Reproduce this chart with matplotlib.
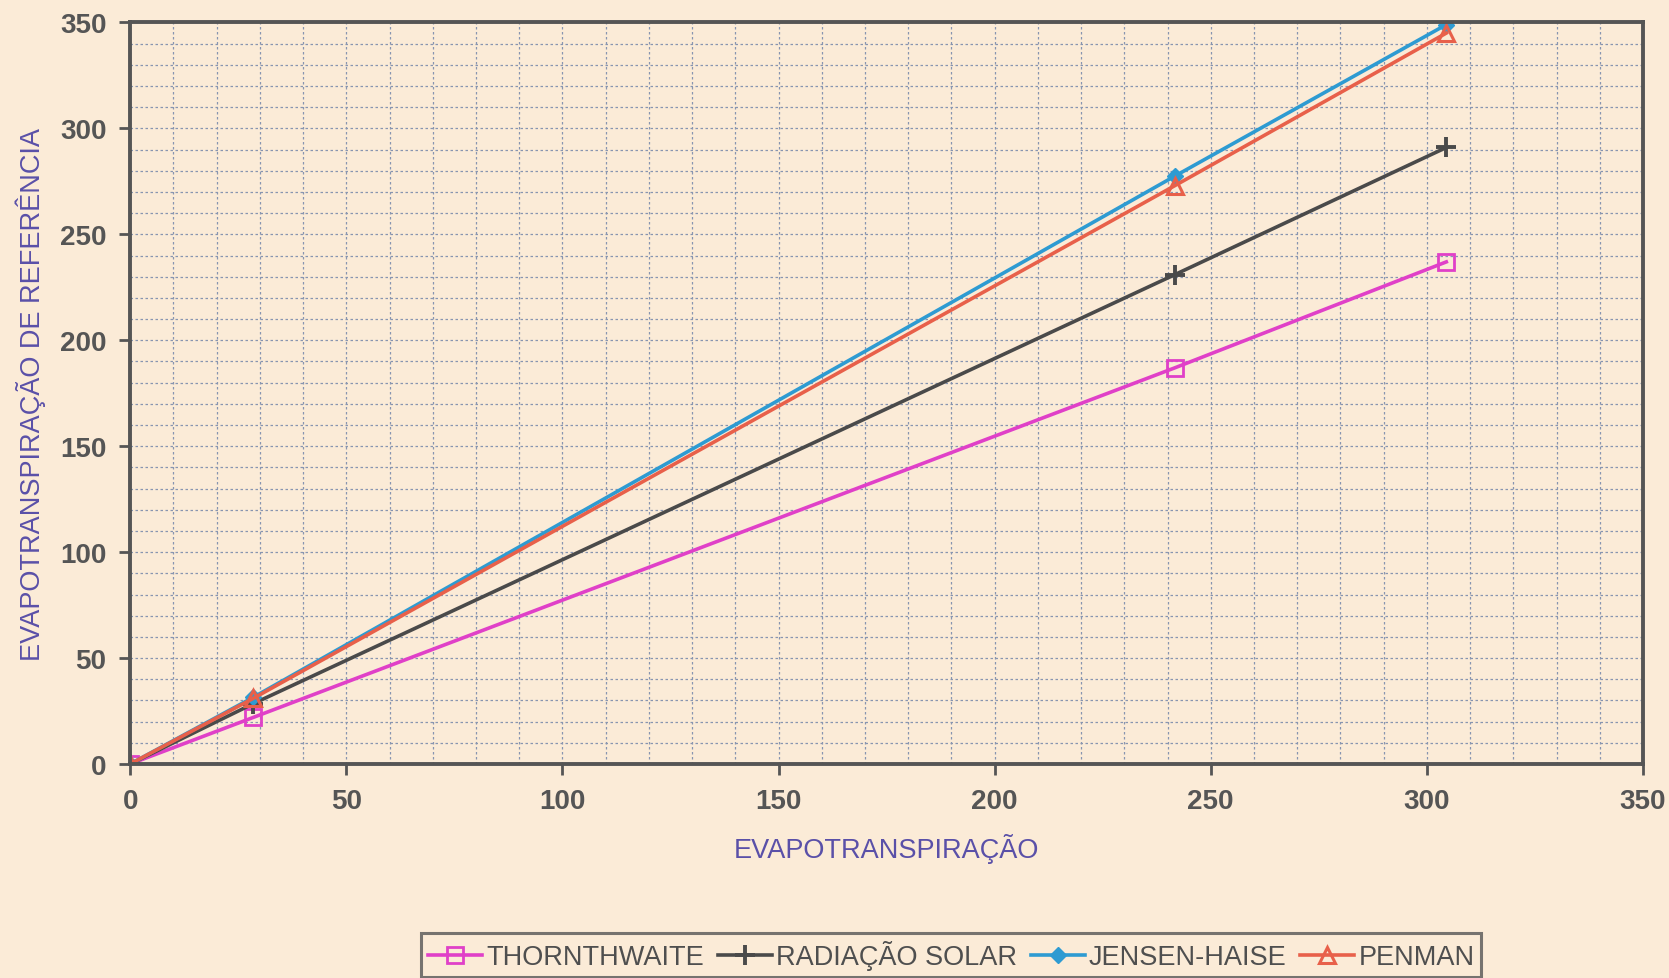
import numpy as np
import matplotlib.pyplot as plt
from matplotlib.ticker import MultipleLocator

plt.rcParams['font.family'] = ['Liberation Sans', 'DejaVu Sans']

# dados
x = [0, 28.5, 241.7, 304.5]
thornthwaite = [0, 22, 187, 237]
radiacao = [0, 28.5, 231, 291]
jensen = [0, 31.5, 277.5, 349]
penman = [0, 31, 273, 345]

bg = '#FBEBD7'
fig = plt.figure(figsize=(16.69, 9.79), dpi=100, facecolor=bg)
ax = fig.add_axes([0.078, 0.2186, 0.9064, 0.7574], facecolor=bg)

ax.plot(x, thornthwaite, color='#E040C8', lw=2.6, marker='s', ms=11,
        mfc='none', mew=2, label='THORNTHWAITE')
ax.plot(x, radiacao, color='#4A4A4A', lw=2.6, marker='+', ms=15,
        mew=2.8, label='RADIAÇÃO SOLAR')
ax.plot(x, jensen, color='#2E9BD2', lw=2.6, marker='D', ms=8,
        label='JENSEN-HAISE')
ax.plot(x, penman, color='#E8604A', lw=2.6, marker='^', ms=12,
        mfc='none', mew=2.2, label='PENMAN')

ax.set_xlim(0, 350)
ax.set_ylim(0, 350)
ax.xaxis.set_major_locator(MultipleLocator(50))
ax.yaxis.set_major_locator(MultipleLocator(50))
ax.xaxis.set_minor_locator(MultipleLocator(10))
ax.yaxis.set_minor_locator(MultipleLocator(10))
ax.grid(True, which='both', color='#8895B0', ls=(0, (2, 2)), lw=0.9)
ax.set_axisbelow(True)
ax.tick_params(which='minor', length=0)
ax.tick_params(which='major', length=8, width=2, color='#555555',
               labelsize=20, labelcolor='#555555', pad=9)
for lab in ax.get_xticklabels() + ax.get_yticklabels():
    lab.set_fontweight('bold')
for s in ax.spines.values():
    s.set_color('#555555')
    s.set_linewidth(2.8)

ax.set_xlabel('EVAPOTRANSPIRAÇÃO', fontsize=19.5, color='#5A50A8', labelpad=14)
ax.set_ylabel('EVAPOTRANSPIRAÇÃO DE REFERÊNCIA', fontsize=19.5, color='#5A50A8', labelpad=10)

leg = fig.legend(loc='center', bbox_to_anchor=(0.570, 0.0235), ncol=4,
                 fontsize=19.5, frameon=True, fancybox=False, handlelength=2.0,
                 handletextpad=0.15, columnspacing=0.5, borderpad=0.25)
leg.get_frame().set_edgecolor('#555555')
leg.get_frame().set_linewidth(2.2)
leg.get_frame().set_facecolor(bg)
for t in leg.get_texts():
    t.set_color('#4F4F4F')

plt.savefig('out.png', dpi=100, facecolor=bg)
